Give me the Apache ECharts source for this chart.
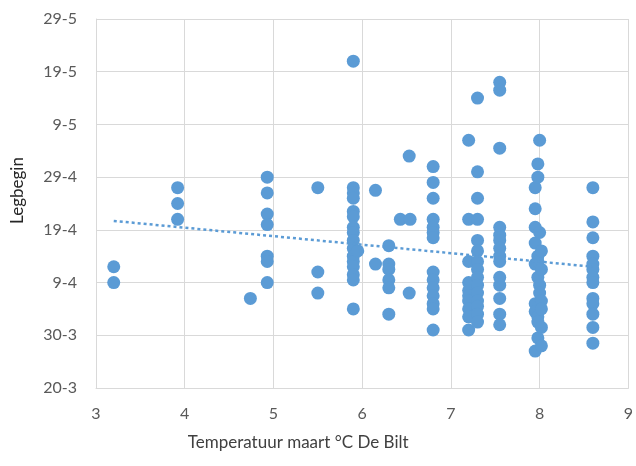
<!DOCTYPE html>
<html>
<head>
<meta charset="utf-8">
<script src="https://cdn.jsdelivr.net/npm/echarts@6/dist/echarts.min.js"></script>
<style>
  html, body { margin: 0; padding: 0; background: #fff; }
  #chart { width: 636px; height: 466px; }
</style>
</head>
<body>
<div id="chart"></div>
<script>
// y-as: dagen na 20 maart
var datumLabels = ['20-3', '30-3', '9-4', '19-4', '29-4', '9-5', '19-5', '29-5'];

// temperatuur per kolom en de bijbehorende legbegin-dagen
var temperaturen = [3.2, 3.92, 4.74, 4.93, 5.5, 5.9, 5.95, 6.15, 6.3, 6.43, 6.54, 6.53, 6.8, 7.2, 7.3, 7.55, 7.95, 7.98, 8.0, 8.02, 8.6];
var legdagen = [
    [23, 20],
    [38, 35, 32],
    [17],
    [40, 37, 33, 31, 25, 24, 20],
    [38, 22, 18],
    [62, 38, 37, 36, 33.5, 32.5, 30.5, 29.5, 28, 26.5, 25, 24, 23, 21.5, 20.5, 15],
    [26],
    [37.5, 23.5],
    [27, 23.5, 22.5, 20.5, 19, 14],
    [32],
    [32],
    [44, 18],
    [42, 39, 36, 32, 30.5, 29.5, 28.5, 22, 20.5, 19, 17.5, 16, 15, 11],
    [47, 32, 24, 20, 18.5, 17.5, 16.5, 15, 13.5, 11],
    [55, 41, 36, 32, 28, 26, 24, 22.5, 21, 19.5, 18, 16.5, 15.5, 14, 12.5],
    [58, 56.5, 45.5, 30.5, 29, 28, 26.5, 25, 24, 21, 19.5, 17, 14, 12],
    [38, 34, 30.5, 27.5, 23.5, 16, 14.5, 7],
    [42.5, 40, 25, 24, 21, 13.5, 12.5, 9.5],
    [47, 29.5, 19.5, 18],
    [26, 22.5, 16.5, 15, 11.5, 8],
    [38, 31.5, 28.5, 25, 23.5, 22.5, 21, 20, 17, 16, 14, 11.5, 8.5]
];

// trendlijn (begin- en eindpunt)
var trendX = [3.2, 8.6];
var trendY = [31.7, 23];

var punten = [];
for (var i = 0; i < temperaturen.length; i++) {
    for (var j = 0; j < legdagen[i].length; j++) {
        punten.push([temperaturen[i], legdagen[i][j]]);
    }
}

var myChart = echarts.init(document.getElementById('chart'));
var option = {
    animation: false,
    grid: {
        left: 96,
        right: 4,
        top: 19,
        bottom: 78
    },
    xAxis: {
        type: 'value',
        min: 3,
        max: 9,
        interval: 1,
        name: 'Temperatuur maart °C De Bilt',
        nameLocation: 'middle',
        nameGap: 46,
        nameTextStyle: {
            color: '#404040',
            fontSize: 17,
            fontFamily: 'Lato',
            padding: [0, 128, 0, 0]
        },
        axisLine: { show: true, lineStyle: { color: '#d9d9d9', width: 1 } },
        axisTick: { show: false },
        splitLine: { show: true, lineStyle: { color: '#d9d9d9', width: 1 } },
        axisLabel: {
            color: '#595959',
            fontSize: 16,
            fontFamily: 'Lato',
            margin: 18
        }
    },
    yAxis: {
        type: 'value',
        min: 0,
        max: 70,
        interval: 10,
        name: 'Legbegin',
        nameLocation: 'middle',
        nameGap: 70,
        nameRotate: 90,
        nameTextStyle: {
            color: '#262626',
            fontSize: 17,
            fontFamily: 'Lato',
            padding: [0, 0, 0, 26]
        },
        axisLine: { show: true, lineStyle: { color: '#d9d9d9', width: 1 } },
        axisTick: { show: false },
        splitLine: { show: true, lineStyle: { color: '#d9d9d9', width: 1 } },
        axisLabel: {
            color: '#595959',
            fontSize: 16,
            fontFamily: 'Lato',
            margin: 19,
            formatter: function (v) {
                return datumLabels[Math.round(v / 10)];
            }
        }
    },
    series: [
        {
            type: 'scatter',
            data: punten,
            symbolSize: 13,
            itemStyle: { color: '#5b9bd5', opacity: 1 }
        },
        {
            type: 'line',
            data: [[trendX[0], trendY[0]], [trendX[1], trendY[1]]],
            symbol: 'none',
            lineStyle: {
                color: '#5b9bd5',
                width: 2.5,
                type: [3, 3]
            },
            z: 3
        }
    ]
};
myChart.setOption(option);
</script>
</body>
</html>
